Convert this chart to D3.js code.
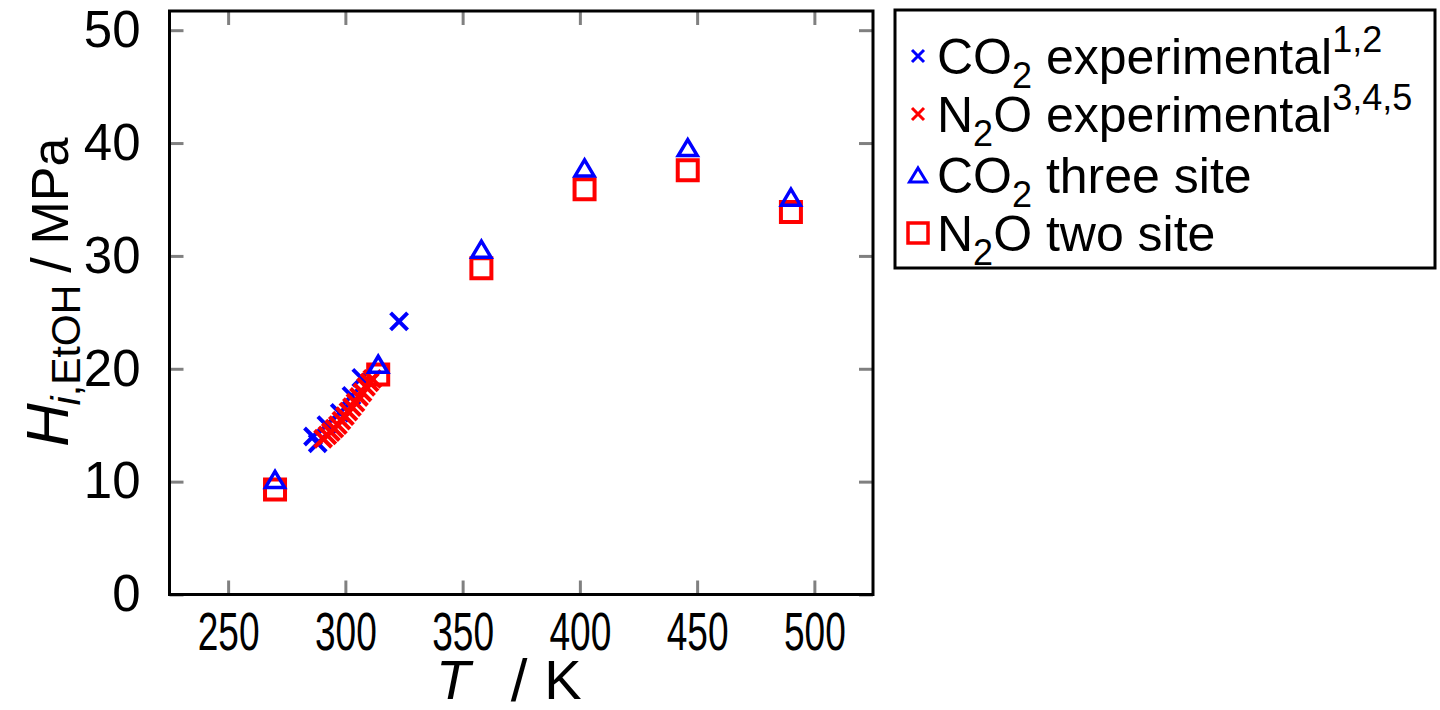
<!DOCTYPE html>
<html>
<head>
<meta charset="utf-8">
<script src="https://cdn.jsdelivr.net/npm/d3@7"></script>
<style>
  html, body { margin: 0; padding: 0; background: #fff; }
  svg { display: block; }
  text { font-family: "Liberation Sans", Arial, Helvetica, sans-serif; fill: #000; }
</style>
</head>
<body>
<svg id="chart" width="1440" height="710"></svg>
<script>
// Henry's constants of CO2 / N2O in ethanol, [T in K, H in MPa]
const co2Experimental = [
  [286.2, 14.0], [288.2, 13.4], [291.9, 15.0], [297.6, 16.1],
  [302.6, 17.6], [306.8, 19.2], [322.9, 24.2]
];
const n2oExperimental = [
  [290.5, 13.8], [292.3, 14.1], [293.8, 14.4], [295.3, 14.7],
  [296.8, 15.0], [298.3, 15.4], [299.8, 15.8], [301.3, 16.2],
  [302.8, 16.6], [304.3, 17.0], [305.8, 17.5], [307.3, 17.9],
  [308.8, 18.4], [310.3, 18.8], [311.5, 19.1]
];
const co2ThreeSite = [
  [270, 10.2], [314, 20.4], [358, 30.6], [402, 37.8], [446, 39.6], [490, 35.2]
];
const n2oTwoSite = [
  [270, 9.3], [314, 19.5], [358, 28.9], [402, 35.9], [446, 37.6], [490, 33.9]
];
const xTicks = [250, 300, 350, 400, 450, 500];
const yTicks = [0, 10, 20, 30, 40, 50];
const xDomain = [225, 525];
const yDomain = [0, 51.7];

const BLUE = "#0000ff", RED = "#ff0000", TICK_GREY = "#808080";

const svg = d3.select("#chart");
const frame = { left: 169.5, right: 873, top: 11, bottom: 594.5 };

const x = d3.scaleLinear().domain(xDomain).range([frame.left, frame.right]);
const y = d3.scaleLinear().domain(yDomain).range([frame.bottom, frame.top]);

// ---- marker shapes (centered on the point) ----
function crossPath(h) {
  return `M${-h},${-h}L${h},${h}M${-h},${h}L${h},${-h}`;
}
function trianglePath(w, ht) {
  return `M0,${-ht / 2}L${w / 2},${ht / 2}L${-w / 2},${ht / 2}Z`;
}
function squarePath(s) {
  const h = s / 2;
  return `M${-h},${-h}H${h}V${h}H${-h}Z`;
}

// ---- axes: inward grey ticks on all four sides ----
const tickLen = 14;
function styleAxis(g) {
  g.select(".domain").remove();
  g.selectAll(".tick line").attr("stroke", TICK_GREY).attr("stroke-width", 3);
}

const gBottom = svg.append("g")
  .attr("transform", `translate(0,${frame.bottom})`)
  .call(d3.axisBottom(x).tickValues(xTicks).tickSize(-tickLen).tickPadding(18).tickFormat(d3.format("d")));
styleAxis(gBottom);
gBottom.selectAll(".tick text")
  .attr("font-size", 53)
  .attr("font-family", '"Liberation Sans", Arial, sans-serif')
  .attr("fill", "#000")
  .attr("transform", "scale(0.7,1)");

const gTop = svg.append("g")
  .attr("transform", `translate(0,${frame.top})`)
  .call(d3.axisTop(x).tickValues(xTicks).tickSize(-tickLen).tickFormat(""));
styleAxis(gTop);

const gLeft = svg.append("g")
  .attr("transform", `translate(${frame.left},0)`)
  .call(d3.axisLeft(y).tickValues(yTicks).tickSize(-tickLen).tickPadding(29).tickFormat(d3.format("d")));
styleAxis(gLeft);
gLeft.selectAll(".tick text")
  .attr("font-size", 51)
  .attr("font-family", '"Liberation Sans", Arial, sans-serif')
  .attr("fill", "#000");

const gRight = svg.append("g")
  .attr("transform", `translate(${frame.right},0)`)
  .call(d3.axisRight(y).tickValues(yTicks).tickSize(-tickLen).tickFormat(""));
styleAxis(gRight);

// ---- data marks ----
const plot = svg.append("g");

plot.selectAll("path.co2exp").data(co2Experimental).join("path")
  .attr("class", "co2exp")
  .attr("transform", d => `translate(${x(d[0])},${y(d[1])})`)
  .attr("d", crossPath(8.5))
  .attr("fill", "none").attr("stroke", BLUE).attr("stroke-width", 4);

plot.selectAll("path.n2oexp").data(n2oExperimental).join("path")
  .attr("class", "n2oexp")
  .attr("transform", d => `translate(${x(d[0])},${y(d[1])})`)
  .attr("d", crossPath(8.5))
  .attr("fill", "none").attr("stroke", RED).attr("stroke-width", 4);

plot.selectAll("path.n2otwo").data(n2oTwoSite).join("path")
  .attr("class", "n2otwo")
  .attr("transform", d => `translate(${x(d[0])},${y(d[1])})`)
  .attr("d", squarePath(20))
  .attr("fill", "none").attr("stroke", RED).attr("stroke-width", 4);

plot.selectAll("path.co2three").data(co2ThreeSite).join("path")
  .attr("class", "co2three")
  .attr("transform", d => `translate(${x(d[0])},${y(d[1])})`)
  .attr("d", trianglePath(19, 16))
  .attr("fill", "none").attr("stroke", BLUE).attr("stroke-width", 3.5)
  .attr("stroke-linejoin", "miter");

// ---- plot frame ----
svg.append("rect")
  .attr("x", frame.left).attr("y", frame.top)
  .attr("width", frame.right - frame.left).attr("height", frame.bottom - frame.top)
  .attr("fill", "none").attr("stroke", "#000").attr("stroke-width", 3);

// ---- axis titles ----
const xt = svg.append("g").attr("transform", "translate(511,699)");
xt.append("text").attr("x", -58).attr("text-anchor", "middle")
  .attr("font-size", 56).attr("font-style", "italic").text("T");
xt.append("text").attr("x", 8).attr("y", 2).attr("text-anchor", "middle")
  .attr("font-size", 60).text("/");
xt.append("text").attr("x", 52).attr("text-anchor", "middle")
  .attr("font-size", 56).text("K");

const yt = svg.append("g").attr("transform", "translate(68,300) rotate(-90)");
yt.append("text").attr("x", -125).attr("text-anchor", "middle")
  .attr("font-size", 60).attr("font-style", "italic").text("H");
const sub = yt.append("text").attr("x", -45).attr("y", 12).attr("text-anchor", "middle")
  .attr("font-size", 41);
sub.append("tspan").attr("font-style", "italic").text("i");
sub.append("tspan").text(",EtOH");
yt.append("text").attr("x", 35).attr("y", 2).attr("text-anchor", "middle")
  .attr("font-size", 56).text("/");
yt.append("text").attr("x", 109).attr("text-anchor", "middle")
  .attr("font-size", 52).text("MPa");

// ---- legend ----
const legendEntries = [
  { parts: [["CO", 0], ["2", -1], [" experimental", 0], ["1,2", 1]], color: BLUE, shape: "cross" },
  { parts: [["N", 0], ["2", -1], ["O experimental", 0], ["3,4,5", 1]], color: RED, shape: "cross" },
  { parts: [["CO", 0], ["2", -1], [" three site", 0]], color: BLUE, shape: "triangle" },
  { parts: [["N", 0], ["2", -1], ["O two site", 0]], color: RED, shape: "square" }
];

const legend = svg.append("g");
legend.append("rect")
  .attr("x", 895).attr("y", 10).attr("width", 540).attr("height", 258)
  .attr("fill", "#fff").attr("stroke", "#000").attr("stroke-width", 3);

const rowY = [56, 114, 175, 233];
legendEntries.forEach((e, i) => {
  const cy = rowY[i];
  const mk = legend.append("path")
    .attr("transform", `translate(918,${cy})`)
    .attr("fill", "none").attr("stroke", e.color);
  if (e.shape === "cross") mk.attr("d", crossPath(6)).attr("stroke-width", 3);
  else if (e.shape === "triangle") mk.attr("d", trianglePath(17, 14)).attr("stroke-width", 3);
  else mk.attr("d", squarePath(20)).attr("stroke-width", 3.5);

  const t = legend.append("text").attr("x", 937).attr("y", cy + 18).attr("font-size", 50);
  let shift = 0;
  e.parts.forEach(([str, level]) => {
    const target = level === -1 ? 14 : level === 1 ? -22 : 0;
    const ts = t.append("tspan").text(str).attr("dy", target - shift);
    if (level !== 0) ts.attr("font-size", 36);
    shift = target;
  });
});
</script>
</body>
</html>
